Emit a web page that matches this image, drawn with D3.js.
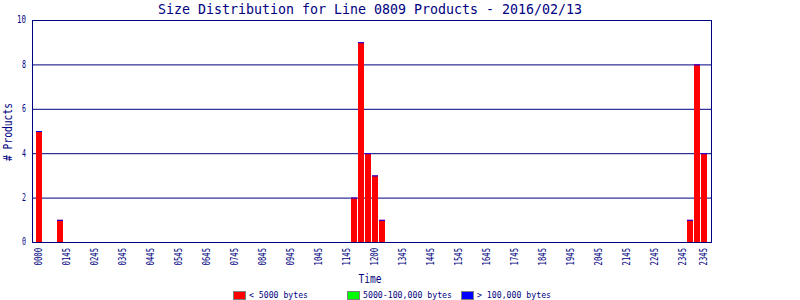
<!DOCTYPE html>
<html><head><meta charset="utf-8">
<script src="https://cdn.jsdelivr.net/npm/d3@7"></script>
<style>body{margin:0;background:#fff}svg{display:block}text{font-family:"DejaVu Sans Mono",monospace;fill:#000080}</style>
</head><body><div id="chart"></div>
<script>
const title = "Size Distribution for Line 0809 Products - 2016/02/13";
// 96 fifteen-minute bins, 0000 .. 2345
const bins = d3.range(96);
const under5000 = [5,0,0,1,0,0,0,0,0,0,0,0,0,0,0,0,0,0,0,0,0,0,0,0,
                   0,0,0,0,0,0,0,0,0,0,0,0,0,0,0,0,0,0,0,0,0,2,9,4,
                   3,1,0,0,0,0,0,0,0,0,0,0,0,0,0,0,0,0,0,0,0,0,0,0,
                   0,0,0,0,0,0,0,0,0,0,0,0,0,0,0,0,0,0,0,0,0,1,8,4];
const mid100k = [0,0,0,0,0,0,0,0,0,0,0,0,0,0,0,0,0,0,0,0,0,0,0,0,
                 0,0,0,0,0,0,0,0,0,0,0,0,0,0,0,0,0,0,0,0,0,0,0,0,
                 0,0,0,0,0,0,0,0,0,0,0,0,0,0,0,0,0,0,0,0,0,0,0,0,
                 0,0,0,0,0,0,0,0,0,0,0,0,0,0,0,0,0,0,0,0,0,0,0,0];
const over100k = [0,0,0,0,0,0,0,0,0,0,0,0,0,0,0,0,0,0,0,0,0,0,0,0,
                  0,0,0,0,0,0,0,0,0,0,0,0,0,0,0,0,0,0,0,0,0,0,0,0,
                  0,0,0,0,0,0,0,0,0,0,0,0,0,0,0,0,0,0,0,0,0,0,0,0,
                  0,0,0,0,0,0,0,0,0,0,0,0,0,0,0,0,0,0,0,0,0,0,0,0];
const tickBins = [0,4,8,12,16,20,24,28,32,36,40,44,48,52,56,60,64,68,72,76,80,84,88,92,95];
const tickLabels = ["0000","0145","0245","0345","0445","0545","0645","0745","0845","0945","1045","1145",
                    "1200","1345","1445","1545","1645","1745","1845","1945","2045","2145","2245","2345","2345"];
const yTicks = [0,2,4,6,8,10];
const seriesNames = ["< 5000 bytes","5000-100,000 bytes","> 100,000 bytes"];
const seriesColors = ["#ff0000","#00ff00","#0000ff"];

const W = 800, H = 300;
const L = 32, R = 711, T = 20, B = 242;
const svg = d3.select("#chart").append("svg").attr("width", W).attr("height", H);

const x = d3.scaleBand().domain(bins).range([36, 707]).paddingInner(1/7).paddingOuter(0);
const y = d3.scaleLinear().domain([0, 10]).range([B, T]);

function fit(sel, n, adv, gap) {
  sel.attr("textLength", n * adv - gap).attr("lengthAdjust", "spacingAndGlyphs");
}

// title
svg.append("text").attr("x", 158).attr("y", 13.5).style("font-size", "14.5px")
  .text(title).call(fit, title.length, 8, 0);

// gridlines
svg.append("g").selectAll("line").data(yTicks.filter(v => v > 0 && v < 10)).join("line")
  .attr("x1", L).attr("x2", R).attr("y1", d => y(d) + 0.5).attr("y2", d => y(d) + 0.5)
  .attr("stroke", "#000080").attr("stroke-width", 1);

// stacked bars
const stackData = bins.map(i => ({i, a: under5000[i], b: mid100k[i], c: over100k[i]}));
const stack = d3.stack().keys(["a","b","c"])(stackData);
const gBars = svg.append("g");
stack.forEach((layer, k) => {
  gBars.selectAll(null).data(layer.filter(d => d[1] > d[0])).join("rect")
    .attr("x", d => x(d.data.i)).attr("width", x.bandwidth())
    .attr("y", d => y(d[1])).attr("height", d => y(d[0]) - y(d[1]))
    .attr("fill", seriesColors[k]);
});
// thin top edge on each bar
gBars.selectAll(null).data(stackData.filter(d => d.a + d.b + d.c > 0)).join("rect")
  .attr("x", d => x(d.i)).attr("width", x.bandwidth())
  .attr("y", d => y(d.a + d.b + d.c)).attr("height", 1)
  .attr("fill", "#0000ff");

// frame
svg.append("rect").attr("x", L + 0.5).attr("y", T + 0.5).attr("width", R - L).attr("height", B - T)
  .attr("fill", "none").attr("stroke", "#000080").attr("stroke-width", 1);

// y tick labels
svg.append("g").selectAll("text").data(yTicks).join("text")
  .attr("x", 26).attr("y", d => y(d)).attr("dy", "0.35em").attr("text-anchor", "end")
  .style("font-size", "9.6px").text(d => d)
  .each(function(d){ d3.select(this).call(fit, String(d).length, 5, 1); });

// x tick labels
svg.append("g").selectAll("text").data(tickBins).join("text")
  .attr("transform", d => `translate(${x(d) + x.bandwidth()/2 - 0.5},248) rotate(-90)`)
  .attr("text-anchor", "end").attr("dy", "0.35em")
  .style("font-size", "9.6px").text((d, i) => tickLabels[i])
  .call(fit, 4, 4.6, 1);

// axis titles
svg.append("text").attr("transform", "translate(12,132) rotate(-90)").attr("text-anchor", "middle")
  .style("font-size", "12.5px").text("# Products").call(fit, 10, 6, 2);
svg.append("text").attr("x", 370).attr("y", 282.5).attr("text-anchor", "middle")
  .style("font-size", "13px").text("Time").call(fit, 4, 6, 1);

// legend
const legX = [233, 347, 461];
const lg = svg.append("g").selectAll("g").data(seriesNames).join("g");
lg.append("rect").attr("x", (d, i) => legX[i] + 0.5).attr("y", 291.5).attr("width", 12).attr("height", 8)
  .attr("fill", (d, i) => seriesColors[i]).attr("stroke", "#808080");
lg.append("text").attr("x", (d, i) => legX[i] + 16).attr("y", 298.3)
  .style("font-size", "8.6px").text(d => d)
  .each(function(d){ d3.select(this).call(fit, d.length, 5, 1); });
</script></body></html>
